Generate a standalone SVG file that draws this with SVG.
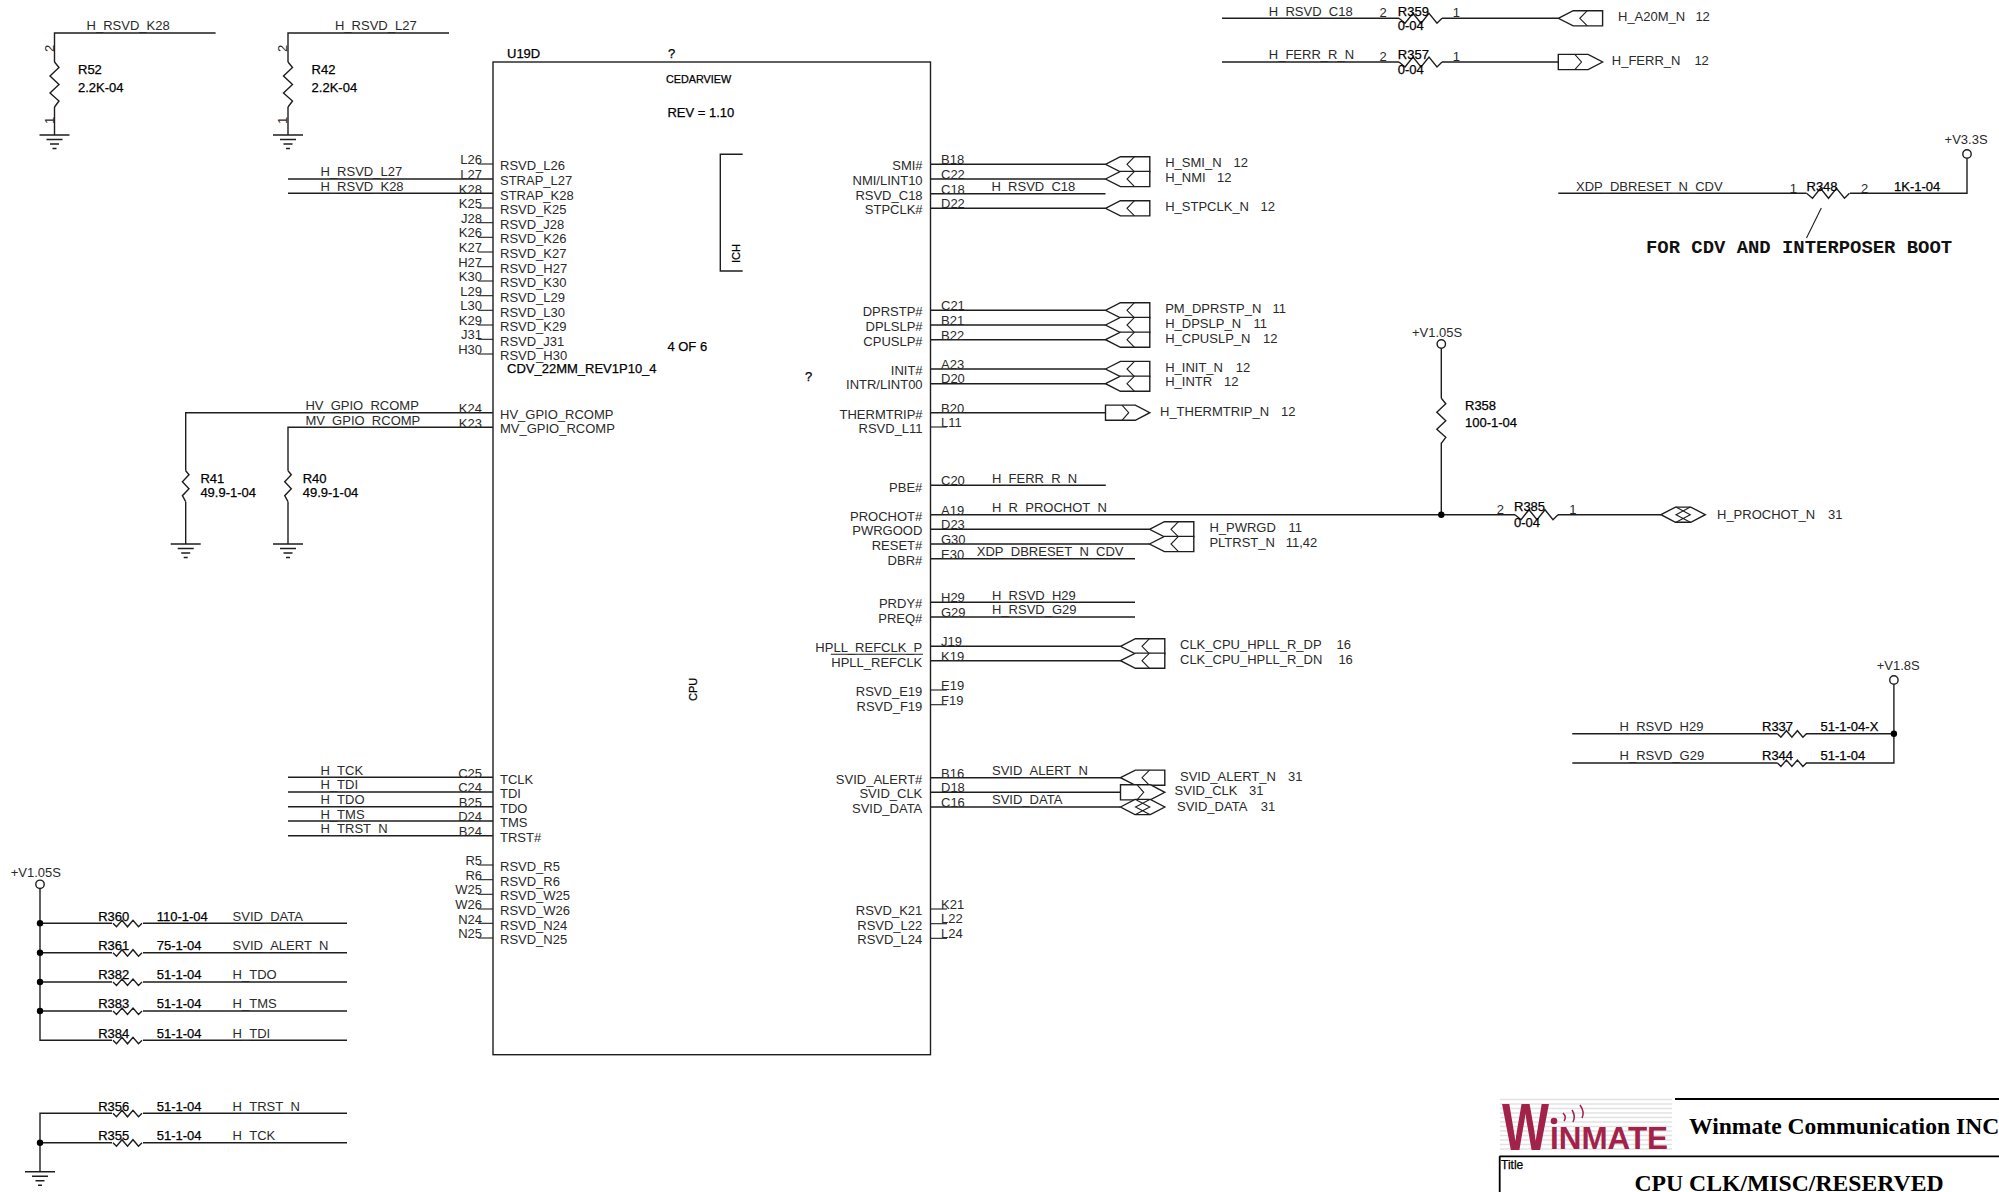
<svg xmlns="http://www.w3.org/2000/svg" width="1999" height="1192" viewBox="0 0 1999 1192">
<style>
text{font-family:"Liberation Sans",Arial,sans-serif;font-size:13px;fill:#2a2a2a}
.d{fill:#000;stroke:#000;stroke-width:.25}
.e{text-anchor:end}
.w{fill:none;stroke:#1e1e1e;stroke-width:1.4}
.n{fill:none;stroke:#1e1e1e;stroke-width:1.1}
.p{fill:#fff;stroke:#1e1e1e;stroke-width:1.4}
.j{fill:#000}
.o{fill:#fff;stroke:#1e1e1e;stroke-width:1.4}
.s{fill:none;stroke:#e2e2e2;stroke-width:1.6}
.l{fill:#a3224a}
.a{fill:none;stroke:#a3224a;stroke-width:1.5}
</style>
<defs>
<path id="rh" class="w" d="M0 0L3.5 3.5L9 -3L14.5 3.5L20 -3L25.5 3.5L29 0"/>
<path id="rw" class="w" d="M0 0L6 5L14 -5L22 5L30 -5L38 5L43 0"/>
<path id="rv" class="w" d="M0 0L4.5 5.5L-4.5 14L4.5 22.500L-4.500 31L4.500 39L0 45"/>
<path id="rs" class="w" d="M0 0L3.300 4L-3.300 11L3.300 18L-3.300 25L0 31"/>
<g id="gnd"><path class="w" d="M-15 0H15M-8 4.500H8M-4.500 9H4.500M-2 13.500H2"/></g>
<g id="pl"><path class="p" d="M0 0L14.900 -7.600H44.300V7.600H14.900Z"/><path class="n" d="M29 -7.600L21.500 0L29 7.600"/></g>
<g id="pr"><path class="p" d="M0 -7.600H29.800L44.300 0L29.800 7.600H0Z"/><path class="n" d="M16.500 -7.600L23.200 0L16.500 7.600"/></g>
<g id="pb"><path class="p" d="M0 0L14.500 -7.600H29.800L44.300 0L29.800 7.600H14.500Z"/><path class="n" d="M15 -7.600L29.300 0L15 7.600M29.300 -7.600L15 0L29.300 7.600"/></g>
</defs>

<g id="connectors">
<path class="w" d="M215.600 33H54.500V62M54.500 107V135"/>
<path class="w" d="M449 33H288V62M288 107V135"/>
<path class="w" d="M288 179H493"/>
<path class="w" d="M288 193.300H493"/>
<path class="w" d="M493 412.700H185.700V470.700M185.700 501.700V544"/>
<path class="w" d="M493 427.300H288V470.700M288 501.700V544"/>
<path class="w" d="M288 777.300H493"/>
<path class="w" d="M288 792H493"/>
<path class="w" d="M288 806.700H493"/>
<path class="w" d="M288 821H493"/>
<path class="w" d="M288 835.700H493"/>
<path class="n" d="M478 164H493"/>
<path class="n" d="M478 208H493"/>
<path class="n" d="M478 222.700H493"/>
<path class="n" d="M478 237.300H493"/>
<path class="n" d="M478 252H493"/>
<path class="n" d="M478 266.700H493"/>
<path class="n" d="M478 281H493"/>
<path class="n" d="M478 295.700H493"/>
<path class="n" d="M478 310.300H493"/>
<path class="n" d="M478 325H493"/>
<path class="n" d="M478 339.300H493"/>
<path class="n" d="M478 354H493"/>
<path class="n" d="M478 865H493"/>
<path class="n" d="M478 879.700H493"/>
<path class="n" d="M478 894.300H493"/>
<path class="n" d="M478 909H493"/>
<path class="n" d="M478 923.300H493"/>
<path class="n" d="M478 938H493"/>
<path class="w" d="M40 888.500V1040.300H112M143 1040.300H347"/>
<path class="w" d="M40 923.300H112M143 923.300H347"/>
<path class="w" d="M40 952.700H112M143 952.700H347"/>
<path class="w" d="M40 982H112M143 982H347"/>
<path class="w" d="M40 1011H112M143 1011H347"/>
<path class="w" d="M347 1113.300H143M112 1113.300H40V1171.700"/>
<path class="w" d="M40 1142.700H112M143 1142.700H347"/>
<path class="w" d="M930.500 164.300H1105.500"/>
<path class="w" d="M930.500 179H1105.500"/>
<path class="w" d="M930.500 193.700H1105.500"/>
<path class="w" d="M930.500 208.300H1105.500"/>
<path class="w" d="M930.500 310.300H1105.500"/>
<path class="w" d="M930.500 325H1105.500"/>
<path class="w" d="M930.500 339.700H1105.500"/>
<path class="w" d="M930.500 369H1105.500"/>
<path class="w" d="M930.500 383.700H1105.500"/>
<path class="w" d="M930.500 412.700H1105.500"/>
<path class="n" d="M930.500 427H946.700"/>
<path class="w" d="M930.500 485.300H1105.800"/>
<path class="w" d="M930.500 514.700H1515M1558 514.700H1661"/>
<path class="w" d="M930.500 529.300H1149.500"/>
<path class="w" d="M930.500 544H1149.500"/>
<path class="w" d="M930.500 558.700H1135"/>
<path class="w" d="M930.500 602.300H1135"/>
<path class="w" d="M930.500 617H1135"/>
<path class="w" d="M930.500 646.300H1120.500"/>
<path class="w" d="M930.500 660.700H1120.500"/>
<path class="n" d="M930.500 690H947"/>
<path class="n" d="M930.500 704.700H947"/>
<path class="w" d="M930.500 777.700H1120.500"/>
<path class="w" d="M930.500 792.300H1120.500"/>
<path class="w" d="M930.500 807H1120.500"/>
<path class="n" d="M930.500 909H947"/>
<path class="n" d="M930.500 923.700H947"/>
<path class="n" d="M930.500 938.300H947"/>
<path class="w" d="M1222 18.300H1399M1442 18.300H1558.300"/>
<path class="w" d="M1222 62H1399M1442 62H1558.300"/>
<path class="w" d="M1558.300 193.300H1806.500M1850 193.300H1967V158.500"/>
<path class="w" d="M1441.300 348V398.300M1441.300 442.700V514.700"/>
<path class="w" d="M1572.300 733.700H1777.400M1806 733.700H1893.900"/>
<path class="w" d="M1572.300 763H1777.400M1806 763H1893.900V684.500"/>
<path class="n" d="M1821.300 208L1806.500 238"/>
<circle class="j" cx="40" cy="923.300" r="3.200"/><circle class="j" cx="40" cy="952.700" r="3.200"/><circle class="j" cx="40" cy="982" r="3.200"/><circle class="j" cx="40" cy="1011" r="3.200"/><circle class="j" cx="40" cy="1142.700" r="3.200"/>
<circle class="j" cx="1441.300" cy="514.700" r="3.200"/><circle class="j" cx="1893.900" cy="733.700" r="3.200"/>
</g>

<g id="net-labels">
<text x="86.600" y="30">H_RSVD_K28</text>
<text x="335" y="30">H_RSVD_L27</text>
<text x="320.500" y="176">H_RSVD_L27</text>
<text x="320.500" y="191">H_RSVD_K28</text>
<text x="305.400" y="410">HV_GPIO_RCOMP</text>
<text x="305.400" y="425">MV_GPIO_RCOMP</text>
<text x="320.500" y="775">H_TCK</text>
<text x="320.500" y="789">H_TDI</text>
<text x="320.500" y="804">H_TDO</text>
<text x="320.500" y="819">H_TMS</text>
<text x="320.500" y="833">H_TRST_N</text>
<text x="232.600" y="921">SVID_DATA</text>
<text x="232.600" y="950">SVID_ALERT_N</text>
<text x="232.600" y="979">H_TDO</text>
<text x="232.600" y="1008">H_TMS</text>
<text x="232.600" y="1038">H_TDI</text>
<text x="232.600" y="1111">H_TRST_N</text>
<text x="232.600" y="1140">H_TCK</text>
<text x="991.500" y="191">H_RSVD_C18</text>
<text x="992" y="482.700">H_FERR_R_N</text>
<text x="992" y="512">H_R_PROCHOT_N</text>
<text x="976.800" y="555.700">XDP_DBRESET_N_CDV</text>
<text x="992" y="600">H_RSVD_H29</text>
<text x="992" y="614">H_RSVD_G29</text>
<text x="992" y="775">SVID_ALERT_N</text>
<text x="992" y="804">SVID_DATA</text>
<text x="1268.800" y="15.700">H_RSVD_C18</text>
<text x="1268.800" y="59.300">H_FERR_R_N</text>
<text x="1576" y="190.700">XDP_DBRESET_N_CDV</text>
<text x="1619.600" y="730.700">H_RSVD_H29</text>
<text x="1619.600" y="759.700">H_RSVD_G29</text>
</g>

<g id="U19D">
<rect class="w" x="493" y="62" width="437.500" height="992.700"/>
<path class="w" d="M742.700 154.300H720.300V271H742.700"/>
<text class="d" x="507" y="58.300">U19D</text>
<text class="d" x="668" y="58.300">?</text>
<text class="d" x="666" y="83" style="font-size:10.800px">CEDARVIEW</text>
<text class="d" x="667.400" y="117.300">REV = 1.10</text>
<text class="d" x="667.400" y="350.700">4 OF 6</text>
<text class="d" x="507" y="372.700">CDV_22MM_REV1P10_4</text>
<text class="d" x="805" y="380.700">?</text>
<text class="d" transform="translate(697,701) rotate(-90)" style="font-size:11px">CPU</text>
<text class="d" transform="translate(740,263) rotate(-90)" style="font-size:11px">ICH</text>
<path class="n" d="M830.800 654.300H923"/>
<text class="e" x="482" y="164">L26</text><text x="500" y="170">RSVD_L26</text>
<text class="e" x="482" y="178.500">L27</text><text x="500" y="185">STRAP_L27</text>
<text class="e" x="482" y="193.500">K28</text><text x="500" y="200">STRAP_K28</text>
<text class="e" x="482" y="208">K25</text><text x="500" y="214.300">RSVD_K25</text>
<text class="e" x="482" y="222.800">J28</text><text x="500" y="229">RSVD_J28</text>
<text class="e" x="482" y="237.300">K26</text><text x="500" y="243">RSVD_K26</text>
<text class="e" x="482" y="252">K27</text><text x="500" y="258">RSVD_K27</text>
<text class="e" x="482" y="266.800">H27</text><text x="500" y="273">RSVD_H27</text>
<text class="e" x="482" y="281">K30</text><text x="500" y="287">RSVD_K30</text>
<text class="e" x="482" y="295.700">L29</text><text x="500" y="302">RSVD_L29</text>
<text class="e" x="482" y="310.300">L30</text><text x="500" y="316.500">RSVD_L30</text>
<text class="e" x="482" y="325">K29</text><text x="500" y="331">RSVD_K29</text>
<text class="e" x="482" y="339.300">J31</text><text x="500" y="346">RSVD_J31</text>
<text class="e" x="482" y="354">H30</text><text x="500" y="360">RSVD_H30</text>
<text class="e" x="482" y="412.700">K24</text><text x="500" y="419">HV_GPIO_RCOMP</text>
<text class="e" x="482" y="427.500">K23</text><text x="500" y="433.300">MV_GPIO_RCOMP</text>
<text class="e" x="482" y="777.500">C25</text><text x="500" y="784">TCLK</text>
<text class="e" x="482" y="792.300">C24</text><text x="500" y="798">TDI</text>
<text class="e" x="482" y="807">B25</text><text x="500" y="813">TDO</text>
<text class="e" x="482" y="821">D24</text><text x="500" y="827">TMS</text>
<text class="e" x="482" y="835.800">B24</text><text x="500" y="842">TRST#</text>
<text class="e" x="482" y="865">R5</text><text x="500" y="871">RSVD_R5</text>
<text class="e" x="482" y="879.800">R6</text><text x="500" y="886">RSVD_R6</text>
<text class="e" x="482" y="894.300">W25</text><text x="500" y="900">RSVD_W25</text>
<text class="e" x="482" y="909">W26</text><text x="500" y="915">RSVD_W26</text>
<text class="e" x="482" y="923.500">N24</text><text x="500" y="930">RSVD_N24</text>
<text class="e" x="482" y="938">N25</text><text x="500" y="944">RSVD_N25</text>
<text x="941" y="164">B18</text><text class="e" x="922.600" y="170">SMI#</text>
<text x="941" y="179">C22</text><text class="e" x="922.600" y="184.700">NMI/LINT10</text>
<text x="941" y="194">C18</text><text class="e" x="922.600" y="200">RSVD_C18</text>
<text x="941" y="208">D22</text><text class="e" x="922.600" y="214">STPCLK#</text>
<text x="941" y="310">C21</text><text class="e" x="922.600" y="315.700">DPRSTP#</text>
<text x="941" y="325">B21</text><text class="e" x="922.600" y="330.700">DPLSLP#</text>
<text x="941" y="339.500">B22</text><text class="e" x="922.600" y="346">CPUSLP#</text>
<text x="941" y="369">A23</text><text class="e" x="922.600" y="375">INIT#</text>
<text x="941" y="383">D20</text><text class="e" x="922.600" y="389">INTR/LINT00</text>
<text x="941" y="412.500">B20</text><text class="e" x="922.600" y="418.700">THERMTRIP#</text>
<text x="941" y="426.700">L11</text><text class="e" x="922.600" y="433.300">RSVD_L11</text>
<text x="941" y="485">C20</text><text class="e" x="922.300" y="491.700">PBE#</text>
<text x="941" y="515">A19</text><text class="e" x="922.300" y="521">PROCHOT#</text>
<text x="941" y="529">D23</text><text class="e" x="922.300" y="535.300">PWRGOOD</text>
<text x="941" y="544">G30</text><text class="e" x="922.300" y="550">RESET#</text>
<text x="941" y="558.500">E30</text><text class="e" x="922.300" y="564.700">DBR#</text>
<text x="941" y="601.500">H29</text><text class="e" x="922.300" y="608">PRDY#</text>
<text x="941" y="616.500">G29</text><text class="e" x="922.300" y="623">PREQ#</text>
<text x="941" y="646">J19</text><text class="e" x="922.300" y="652">HPLL_REFCLK_P</text>
<text x="941" y="661">K19</text><text class="e" x="922.300" y="667">HPLL_REFCLK</text>
<text x="941" y="690">E19</text><text class="e" x="922.300" y="695.700">RSVD_E19</text>
<text x="941" y="704.500">F19</text><text class="e" x="922.300" y="711">RSVD_F19</text>
<text x="941" y="777.500">B16</text><text class="e" x="922.300" y="783.700">SVID_ALERT#</text>
<text x="941" y="792">D18</text><text class="e" x="922.300" y="797.700">SVID_CLK</text>
<text x="941" y="807">C16</text><text class="e" x="922.300" y="813">SVID_DATA</text>
<text x="941" y="909">K21</text><text class="e" x="922.300" y="915">RSVD_K21</text>
<text x="941" y="923">L22</text><text class="e" x="922.300" y="929.700">RSVD_L22</text>
<text x="941" y="938">L24</text><text class="e" x="922.300" y="944">RSVD_L24</text>
</g>

<g id="R52"><use href="#rv" x="54.500" y="62"/><text transform="translate(53.500,52) rotate(-90)">2</text><text transform="translate(53.500,124) rotate(-90)">1</text><text class="d" x="78" y="74.300">R52</text><text class="d" x="78" y="92.300">2.2K-04</text></g>
<g id="R42"><use href="#rv" x="288" y="62"/><text transform="translate(287,52) rotate(-90)">2</text><text transform="translate(287,124) rotate(-90)">1</text><text class="d" x="311.600" y="74.300">R42</text><text class="d" x="311.600" y="92.300">2.2K-04</text></g>
<g id="R41"><use href="#rs" x="185.700" y="470.700"/><text class="d" x="200.400" y="482.700">R41</text><text class="d" x="200.400" y="497">49.9-1-04</text></g>
<g id="R40"><use href="#rs" x="288" y="470.700"/><text class="d" x="302.700" y="482.700">R40</text><text class="d" x="302.700" y="497">49.9-1-04</text></g>
<g id="R358"><use href="#rv" x="1441.300" y="398.300"/><text class="d" x="1465" y="410">R358</text><text class="d" x="1465" y="427">100-1-04</text></g>
<g id="R360"><use href="#rh" x="113" y="923.300"/><text class="d" x="98.200" y="921">R360</text><text class="d" x="156.700" y="921">110-1-04</text></g>
<g id="R361"><use href="#rh" x="113" y="952.700"/><text class="d" x="98.200" y="950">R361</text><text class="d" x="156.700" y="950">75-1-04</text></g>
<g id="R382"><use href="#rh" x="113" y="982"/><text class="d" x="98.200" y="979">R382</text><text class="d" x="156.700" y="979">51-1-04</text></g>
<g id="R383"><use href="#rh" x="113" y="1011"/><text class="d" x="98.200" y="1008">R383</text><text class="d" x="156.700" y="1008">51-1-04</text></g>
<g id="R384"><use href="#rh" x="113" y="1040.300"/><text class="d" x="98.200" y="1038">R384</text><text class="d" x="156.700" y="1038">51-1-04</text></g>
<g id="R356"><use href="#rh" x="113" y="1113.300"/><text class="d" x="98.200" y="1111">R356</text><text class="d" x="156.700" y="1111">51-1-04</text></g>
<g id="R355"><use href="#rh" x="113" y="1142.700"/><text class="d" x="98.200" y="1140">R355</text><text class="d" x="156.700" y="1140">51-1-04</text></g>
<g id="R337"><use href="#rh" x="1777.400" y="733.700"/><text class="d" x="1762" y="730.700">R337</text><text class="d" x="1820.500" y="730.700">51-1-04-X</text></g>
<g id="R344"><use href="#rh" x="1777.400" y="763"/><text class="d" x="1762" y="759.700">R344</text><text class="d" x="1820.500" y="759.700">51-1-04</text></g>
<g id="R359"><use href="#rw" x="1399" y="18.300"/><text x="1379.400" y="17.300">2</text><text x="1452.800" y="17.300">1</text><text class="d" x="1397.800" y="15.700">R359</text><text class="d" x="1397.800" y="30">0-04</text></g>
<g id="R357"><use href="#rw" x="1399" y="62"/><text x="1379.400" y="61">2</text><text x="1452.800" y="61">1</text><text class="d" x="1397.800" y="59">R357</text><text class="d" x="1397.800" y="74">0-04</text></g>
<g id="R385"><use href="#rw" x="1515" y="514.700"/><text x="1496.700" y="514">2</text><text x="1569.300" y="514">1</text><text class="d" x="1514" y="511.300">R385</text><text class="d" x="1514" y="526.700">0-04</text></g>
<g id="R348"><use href="#rw" x="1806.500" y="193.300"/><text x="1789.700" y="192.700">1</text><text x="1861" y="192.700">2</text><text class="d" x="1806.500" y="190.700">R348</text><text class="d" x="1894" y="190.700">1K-1-04</text></g>

<g id="GND1"><use href="#gnd" x="54.500" y="135"/></g>
<g id="GND2"><use href="#gnd" x="288" y="135"/></g>
<g id="GND3"><use href="#gnd" x="185.700" y="544"/></g>
<g id="GND4"><use href="#gnd" x="288" y="544"/></g>
<g id="GND5"><use href="#gnd" x="40" y="1171.700"/></g>

<g id="PWR_V105_A"><circle class="o" cx="40" cy="884.300" r="4.200"/><text x="10.700" y="876.700">+V1.05S</text></g>
<g id="PWR_V105_B"><circle class="o" cx="1441.300" cy="344" r="4.200"/><text x="1412" y="336.700">+V1.05S</text></g>
<g id="PWR_V33"><circle class="o" cx="1967" cy="154" r="4.200"/><text x="1944.600" y="144">+V3.3S</text></g>
<g id="PWR_V18"><circle class="o" cx="1893.900" cy="680" r="4.200"/><text x="1876.700" y="670">+V1.8S</text></g>

<g id="P_SMI"><use href="#pl" x="1105.500" y="164.300"/><text x="1165.200" y="166.700">H_SMI_N</text><text x="1233.600" y="166.700">12</text></g>
<g id="P_NMI"><use href="#pl" x="1105.500" y="179"/><text x="1165.200" y="181.700">H_NMI</text><text x="1217" y="181.700">12</text></g>
<g id="P_STPCLK"><use href="#pl" x="1105.500" y="208.300"/><text x="1165.200" y="210.700">H_STPCLK_N</text><text x="1260.500" y="210.700">12</text></g>
<g id="P_DPRSTP"><use href="#pl" x="1105.500" y="310.300"/><text x="1165.200" y="313">PM_DPRSTP_N</text><text x="1272.500" y="313">11</text></g>
<g id="P_DPSLP"><use href="#pl" x="1105.500" y="325"/><text x="1165.200" y="328">H_DPSLP_N</text><text x="1253.500" y="328">11</text></g>
<g id="P_CPUSLP"><use href="#pl" x="1105.500" y="339.700"/><text x="1165.200" y="342.700">H_CPUSLP_N</text><text x="1263" y="342.700">12</text></g>
<g id="P_INIT"><use href="#pl" x="1105.500" y="369"/><text x="1165.200" y="372">H_INIT_N</text><text x="1235.700" y="372">12</text></g>
<g id="P_INTR"><use href="#pl" x="1105.500" y="383.700"/><text x="1165.200" y="386">H_INTR</text><text x="1224" y="386">12</text></g>
<g id="P_THERMTRIP"><use href="#pr" x="1105.500" y="412.700"/><text x="1160" y="415.700">H_THERMTRIP_N</text><text x="1281" y="415.700">12</text></g>
<g id="P_PWRGD"><use href="#pl" x="1149.500" y="529.300"/><text x="1209.400" y="531.700">H_PWRGD</text><text x="1288.400" y="531.700">11</text></g>
<g id="P_PLTRST"><use href="#pl" x="1149.500" y="544"/><text x="1209.400" y="546.700">PLTRST_N</text><text x="1285.700" y="546.700">11,42</text></g>
<g id="P_HPLL_DP"><use href="#pl" x="1120.500" y="646.300"/><text x="1180" y="648.700">CLK_CPU_HPLL_R_DP</text><text x="1336.600" y="648.700">16</text></g>
<g id="P_HPLL_DN"><use href="#pl" x="1120.500" y="660.700"/><text x="1180" y="663.700">CLK_CPU_HPLL_R_DN</text><text x="1338.400" y="663.700">16</text></g>
<g id="P_SVID_ALERT"><use href="#pl" x="1120.500" y="777.700"/><text x="1180" y="780.700">SVID_ALERT_N</text><text x="1288" y="780.700">31</text></g>
<g id="P_SVID_CLK"><use href="#pr" x="1120.500" y="792.300"/><text x="1174.600" y="795">SVID_CLK</text><text x="1249" y="795">31</text></g>
<g id="P_SVID_DATA"><use href="#pb" x="1120.500" y="807"/><text x="1177" y="811">SVID_DATA</text><text x="1260.700" y="811">31</text></g>
<g id="P_A20M"><use href="#pl" x="1558.300" y="18.300"/><text x="1618" y="20.700">H_A20M_N</text><text x="1695.400" y="20.700">12</text></g>
<g id="P_FERR"><use href="#pr" x="1558.300" y="62"/><text x="1611.800" y="64.700">H_FERR_N</text><text x="1694.400" y="64.700">12</text></g>
<g id="P_PROCHOT"><use href="#pb" x="1661" y="514.700"/><text x="1717" y="519">H_PROCHOT_N</text><text x="1828" y="519">31</text></g>

<g id="note"><text x="1646" y="253.300" style="font-family:'Liberation Mono',monospace;font-size:18.900px;font-weight:bold;fill:#111">FOR CDV AND INTERPOSER BOOT</text></g>

<g id="title-block">
<path class="s" d="M1500 1099.500H1672M1500 1104H1672M1500 1108.500H1672M1500 1113H1672M1500 1117.500H1672M1500 1122H1672M1500 1126.500H1672M1500 1131H1672M1500 1135.500H1672M1500 1140H1672M1500 1144.500H1672M1500 1149H1672"/>
<text class="l" x="1502" y="1150" textLength="47" lengthAdjust="spacingAndGlyphs" style="font-size:67px;font-weight:bold;fill:#a3224a">W</text>
<text class="l" x="1550" y="1149" textLength="118" lengthAdjust="spacingAndGlyphs" style="font-size:32px;font-weight:bold;fill:#a3224a">INMATE</text>
<circle class="l" cx="1554" cy="1121" r="3.300"/>
<path class="a" d="M1563 1113Q1567 1117 1564 1121M1572 1110Q1576 1116 1573 1122M1580 1105Q1585 1112 1582 1118"/>
<path d="M1675 1099H1999M1499.500 1156.300H1999M1499.700 1156.300V1192" fill="none" stroke="#000" stroke-width="1.800"/>
<text x="1689" y="1134" style="font-family:'Liberation Serif',serif;font-size:23.600px;font-weight:bold;fill:#000">Winmate Communication INC</text>
<text class="d" x="1501" y="1169" style="font-size:12px">Title</text>
<text x="1634.500" y="1190.700" style="font-family:'Liberation Serif',serif;font-size:23.700px;font-weight:bold;fill:#000">CPU CLK/MISC/RESERVED</text>
</g>
</svg>
